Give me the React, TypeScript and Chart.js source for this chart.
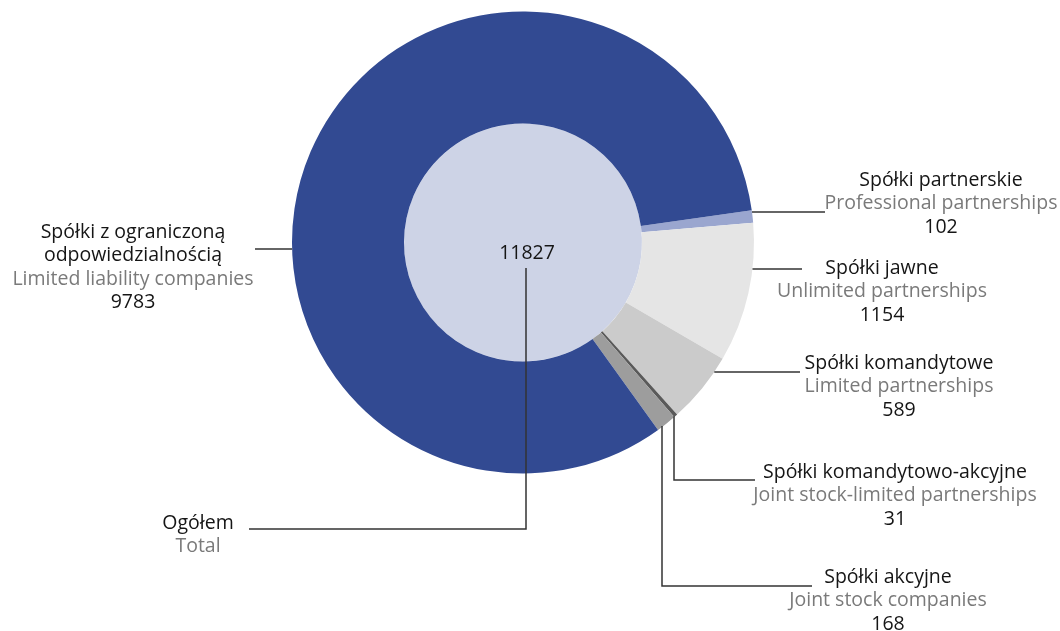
import { useEffect, useRef } from "react";
import { Chart, registerables } from "chart.js";

Chart.register(...registerables);

const NAMES_PL = [
  "Spółki partnerskie",
  "Spółki jawne",
  "Spółki komandytowe",
  "Spółki komandytowo-akcyjne",
  "Spółki akcyjne",
  "Spółki z ograniczoną|odpowiedzialnością",
];
const NAMES_EN = [
  "Professional partnerships",
  "Unlimited partnerships",
  "Limited partnerships",
  "Joint stock-limited partnerships",
  "Joint stock companies",
  "Limited liability companies",
];
const VALUES = [102, 1154, 589, 31, 168, 9783];
const TOTAL_PL = "Ogółem";
const TOTAL_EN = "Total";
const TOTAL_VALUES = [11827];

const COLORS = ["#9aa6cf", "#e5e5e5", "#cbcbcb", "#5a5a5a", "#9d9d9d", "#324a92"];
const CENTER_COLOR = "#cdd3e6";

const FONT = "'Open Sans', sans-serif";
const FONT_SIZE = 19.5;
const LINE_H = 23.5;
const DARK = "#151515";
const GREY = "#7a7a7a";
const LINE_COLOR = "#333333";

// label layout: text center x, first line center y, leader line description
type Leader =
  | { kind: "h"; y: number; toX: number; side: 1 | -1 }
  | { kind: "elbow"; x: number; y: number; toX: number };
const LAYOUT: { tx: number; ty: number; leader: Leader }[] = [
  { tx: 941, ty: 180, leader: { kind: "h", y: 212, toX: 825, side: 1 } },
  { tx: 882, ty: 268, leader: { kind: "h", y: 269, toX: 802, side: 1 } },
  { tx: 899, ty: 363, leader: { kind: "h", y: 372, toX: 800, side: 1 } },
  { tx: 895, ty: 472, leader: { kind: "elbow", x: 674, y: 480, toX: 755 } },
  { tx: 888, ty: 577, leader: { kind: "elbow", x: 662, y: 586, toX: 812 } },
  { tx: 133, ty: 232, leader: { kind: "h", y: 249, toX: 255, side: -1 } },
];
const TOTAL_LAYOUT = { tx: 198, ty: 523, lineY: 529, fromX: 249, upX: 526, upTo: 268, numY: 253, numX: 527 };

const labelsPlugin = {
  id: "leaderLabels",
  afterDraw(chart: any) {
    const ctx = chart.ctx as CanvasRenderingContext2D;
    const meta = chart.getDatasetMeta(0);
    const arc0 = meta.data[0] as any;
    const cx = arc0.x;
    const cy = arc0.y;
    const R = arc0.outerRadius;
    ctx.save();
    ctx.strokeStyle = LINE_COLOR;
    ctx.lineWidth = 1.5;
    ctx.textAlign = "center";
    ctx.textBaseline = "middle";
    ctx.font = `${FONT_SIZE}px ${FONT}`;

    VALUES.forEach((v, i) => {
      const lay = LAYOUT[i];
      const ld = lay.leader;
      ctx.beginPath();
      if (ld.kind === "h") {
        const dy = ld.y - cy;
        const edgeX = cx + ld.side * Math.sqrt(Math.max(R * R - dy * dy, 0));
        ctx.moveTo(edgeX, ld.y);
        ctx.lineTo(ld.toX, ld.y);
      } else {
        const dx = ld.x - cx;
        const edgeY = cy + Math.sqrt(Math.max(R * R - dx * dx, 0));
        ctx.moveTo(ld.x, edgeY - 1);
        ctx.lineTo(ld.x, ld.y);
        ctx.lineTo(ld.toX, ld.y);
      }
      ctx.stroke();

      const plLines = NAMES_PL[i].split("|");
      let y = lay.ty;
      ctx.fillStyle = DARK;
      plLines.forEach((t) => {
        ctx.fillText(t, lay.tx, y);
        y += LINE_H;
      });
      ctx.fillStyle = GREY;
      ctx.fillText(NAMES_EN[i], lay.tx, y);
      y += LINE_H;
      ctx.fillStyle = DARK;
      ctx.fillText(String(v), lay.tx, y);
    });

    // total
    const T = TOTAL_LAYOUT;
    ctx.beginPath();
    ctx.moveTo(T.fromX, T.lineY);
    ctx.lineTo(T.upX, T.lineY);
    ctx.lineTo(T.upX, T.upTo);
    ctx.stroke();
    ctx.fillStyle = DARK;
    ctx.fillText(TOTAL_PL, T.tx, T.ty);
    ctx.fillStyle = GREY;
    ctx.fillText(TOTAL_EN, T.tx, T.ty + LINE_H);
    ctx.fillStyle = DARK;
    ctx.fillText(String(TOTAL_VALUES[0]), T.numX, T.numY);
    ctx.restore();
  },
};

export default function App() {
  const ref = useRef<HTMLCanvasElement>(null);
  useEffect(() => {
    document.body.style.margin = "0";
    const chart = new Chart(ref.current!, {
      type: "doughnut",
      data: {
        labels: NAMES_PL.map((n) => n.replace("|", " ")),
        datasets: [
          {
            data: VALUES,
            backgroundColor: COLORS,
            borderWidth: 0,
            weight: 112,
          } as any,
          {
            data: TOTAL_VALUES,
            backgroundColor: [CENTER_COLOR],
            borderWidth: 0,
            weight: 119,
          } as any,
        ],
      },
      options: {
        responsive: false,
        animation: false,
        cutout: 0,
        rotation: 82,
        layout: { padding: { top: 11.5, bottom: 157.5, left: 292, right: 306 } },
        plugins: { legend: { display: false }, tooltip: { enabled: false } },
      },
      plugins: [labelsPlugin],
    });
    return () => chart.destroy();
  }, []);
  return (
    <div style={{ width: 1060, height: 631, background: "#fff" }}>
      <canvas ref={ref} width={1060} height={631} />
    </div>
  );
}
